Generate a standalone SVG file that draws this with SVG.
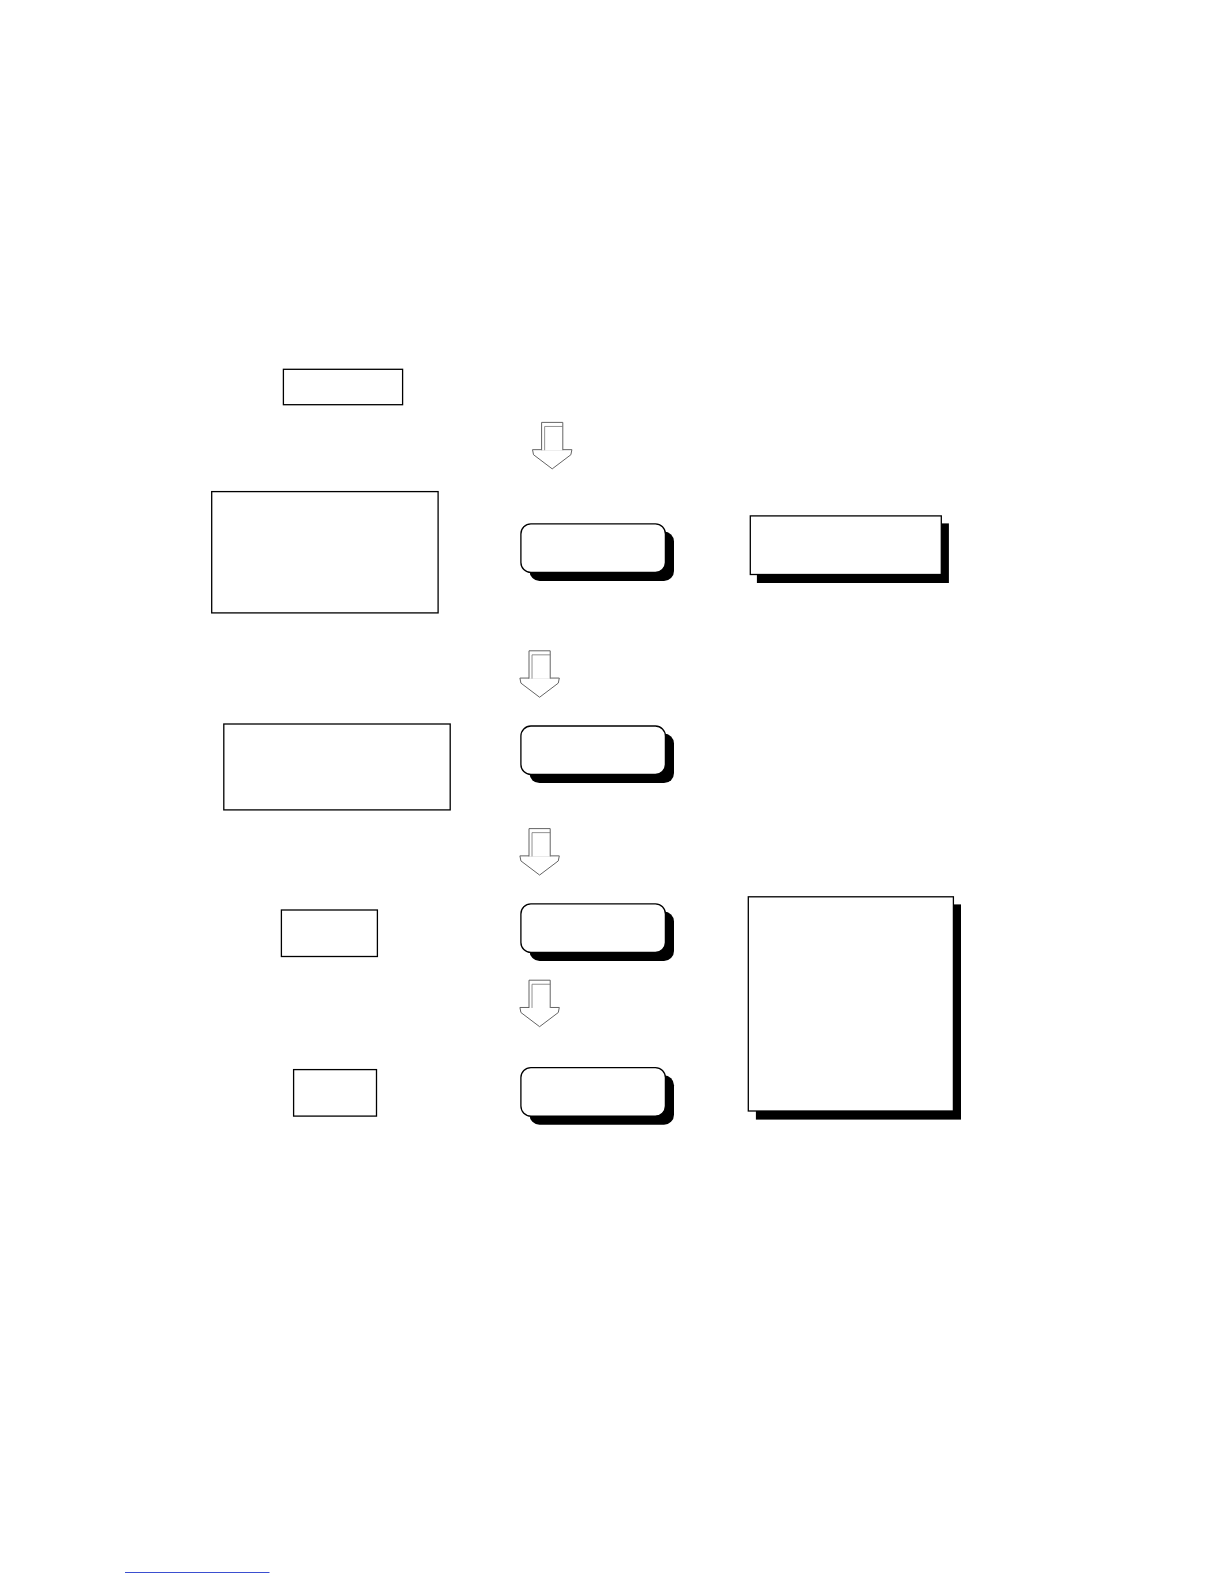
<svg xmlns="http://www.w3.org/2000/svg" xmlns:xlink="http://www.w3.org/1999/xlink" width="1224" height="1584" viewBox="0 0 1224 1584">
<style>
.box{fill:#fff;stroke:#000;stroke-width:1.3}
.shadow{fill:#000;stroke:none}
.ar-out{fill:#fff;stroke:#555;stroke-width:0.9;stroke-linejoin:miter}
.ar-in{fill:none;stroke:#777;stroke-width:0.8}
.ar-side{fill:#d4d4d4;stroke:none}
</style>
<defs>
<g id="blockArrow">
<path class="ar-out" d="M0,27 L-9,27 L-8,32 L10.5,46 L29,32 L30,27 L21,27 Z"/>
<rect x="0" y="0" width="21" height="27.5" fill="#fff" stroke="none"/>
<polygon class="ar-side" points="0,0 3,4 3,27.5 0,27.5"/>
<path class="ar-out" fill="none" d="M0,27.5 V0 H21 V27.5"/>
<path class="ar-in" d="M3,27.5 V4 H21"/>
</g>
</defs>
<rect width="1224" height="1584" fill="#fff"/>
<g id="connectors">
<use xlink:href="#blockArrow" transform="translate(541.6,422.4) scale(1.01)"/>
<use xlink:href="#blockArrow" transform="translate(529,650.8) scale(1.01)"/>
<use xlink:href="#blockArrow" transform="translate(529,828.6) scale(1.01)"/>
<use xlink:href="#blockArrow" transform="translate(529,980.2) scale(1.01)"/>
</g>
<g id="node-top-label"><rect class="box" x="283.4" y="369.3" width="119.2" height="35.4"/></g>
<g id="node-left-1"><rect class="box" x="211.7" y="491.6" width="226.4" height="121.3"/></g>
<g id="node-step-1">
<rect class="shadow" x="529.5" y="531.5" width="144.5" height="49.5" rx="10"/>
<rect class="box" x="520.9" y="523.9" width="144.5" height="48.5" rx="10"/>
</g>
<g id="node-right-1">
<rect class="shadow" x="756.9" y="523.4" width="192" height="59.6"/>
<rect class="box" x="750.3" y="515.9" width="191" height="58.6"/>
</g>
<g id="node-left-2"><rect class="box" x="223.8" y="724" width="226.4" height="85.9"/></g>
<g id="node-step-2">
<rect class="shadow" x="529.5" y="733.6" width="144.5" height="49.5" rx="10"/>
<rect class="box" x="520.9" y="726" width="144.5" height="48.5" rx="10"/>
</g>
<g id="node-left-3"><rect class="box" x="281.4" y="910" width="96" height="46.5"/></g>
<g id="node-step-3">
<rect class="shadow" x="529.5" y="911.5" width="144.5" height="49.5" rx="10"/>
<rect class="box" x="520.9" y="903.9" width="144.5" height="48.5" rx="10"/>
</g>
<g id="node-left-4"><rect class="box" x="293.6" y="1069.6" width="82.9" height="46.5"/></g>
<g id="node-step-4">
<rect class="shadow" x="529.5" y="1075.2" width="144.5" height="49.5" rx="10"/>
<rect class="box" x="520.9" y="1067.6" width="144.5" height="48.5" rx="10"/>
</g>
<g id="node-right-2">
<rect class="shadow" x="755.9" y="904.4" width="205.1" height="215.2"/>
<rect class="box" x="748.3" y="896.8" width="205.1" height="214.2"/>
</g>
<line x1="125" y1="1572.5" x2="269.5" y2="1572.5" stroke="#3b4fd0" stroke-width="1"/>
</svg>
